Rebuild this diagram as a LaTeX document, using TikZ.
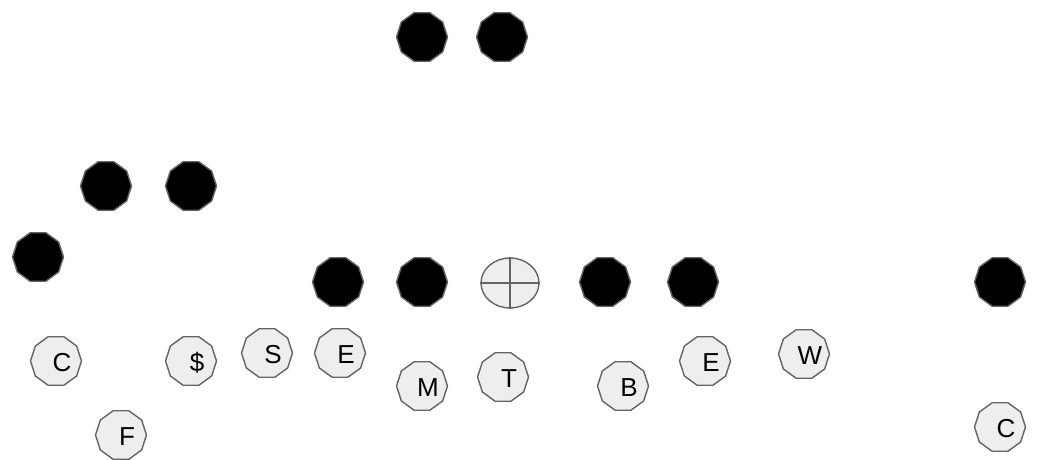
\documentclass[tikz,border=0pt]{standalone}
\usepackage{fontspec}
\setmainfont{Liberation Sans}
\usepackage{tikz}
\usetikzlibrary{shapes.geometric}
\definecolor{playerEdge}{RGB}{100,100,100}
\definecolor{defFill}   {RGB}{238,238,238}

\tikzset{
  decagon/.style={regular polygon,regular polygon sides=10,minimum size=51pt,
                  inner sep=0pt,draw=playerEdge,line width=1.4pt},
  offp/.style={decagon,fill=black},
  lbl/.style={font=\fontsize{26}{30}\selectfont,xshift=6pt,yshift=-2pt},
  defp/.style={decagon,fill=defFill,label={[lbl]center:#1}},
}

\begin{document}
\begin{tikzpicture}[x=1pt,y=-1pt]

    \useasboundingbox (0,0) rectangle (1057,460);

    % ── OFFENSE ────────────────────────────────────────────
    \foreach \nm/\x/\y in {bk1/422/37, bk2/502/37, sl1/106/186, sl2/191/186,
                           wl/38/257, lt/338/282, lg/422/282, rg/605/282,
                           rt/693/282, wr/1000/282}{
      \node[offp] (\nm) at (\x,\y) {};
    }
    \node[ellipse,minimum width=58pt,minimum height=50pt,inner sep=0pt,
          draw=playerEdge,fill=defFill,line width=1.4pt] (ball) at (510,283) {};
    \draw[playerEdge,line width=1.4pt] (ball.north) -- (ball.south)
                                       (ball.west) -- (ball.east);

    % ── DEFENSE ────────────────────────────────────────────
    \foreach \nm/\txt/\x/\y in {cl/C/56/361, fs/F/121/435, ss/\$/191/361,
                                sam/S/267/353, el/E/340/353, mik/M/422/386,
                                tk/T/503/377, bk/B/623/386, er/E/705/361,
                                wil/W/804/354, cr/C/1000/427}{
      \node[defp=\txt] (\nm) at (\x,\y) {};
    }

\end{tikzpicture}
\end{document}
